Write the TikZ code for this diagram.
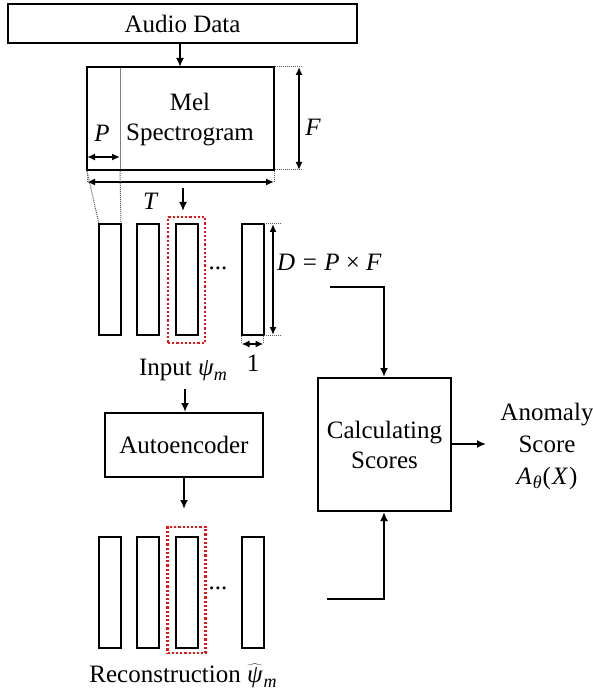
\documentclass[tikz,border=0pt]{standalone}
\usepackage{fontspec}
\setmainfont{Liberation Serif}
\usetikzlibrary{arrows.meta}
\definecolor{dotred}{RGB}{235,20,20}
\newcommand{\subm}[1]{\raisebox{-0.4ex}{\fontsize{18}{20}\selectfont\textit{#1}}}
\begin{document}
\begin{tikzpicture}[x=1pt,y=-1pt,
  box/.style={draw, line width=2pt, inner sep=0pt},
  colbox/.style={draw, line width=2pt, minimum width=22pt, minimum height=111pt, inner sep=0pt},
  redbox/.style={draw=dotred, line width=2.2pt, dash pattern=on 2.2pt off 2pt, minimum width=37pt, minimum height=126pt, inner sep=0pt},
  arr/.style={-{Latex[length=9pt,width=8pt]}, line width=1.8pt},
  dimarr/.style={{Latex[length=8pt,width=7pt]}-{Latex[length=8pt,width=7pt]}, line width=1.8pt},
  dotl/.style={dash pattern=on 1pt off 1pt, line width=1pt, gray!70!black},
  txt/.style={font=\fontsize{25}{30}\selectfont, inner sep=0pt, align=center}]
\useasboundingbox (0,0) rectangle (593,700);
\fill[white] (0,0) rectangle (593,700);

% top boxes
\node[box, minimum width=349pt, minimum height=39pt, txt] (audio) at (182.5,23.5) {Audio Data};
\node[box, minimum width=187pt, minimum height=103pt] (mel) at (180.5,118.5) {};
\node[txt] (meltxt) at (190,120) {Mel\\Spectrogram};
\draw[gray, line width=1pt] (120,68) -- (120,169);
\draw[arr] (audio.south -| 180,0) -- (180,67);

% dimension F
\draw[dotl] (275,67) -- (303,67);
\draw[dotl] (275,170) -- (303,170);
\draw[dimarr] (299,67) -- (299,170);
\node[txt, font=\fontsize{25}{30}\selectfont\itshape] (flab) at (313,127) {F};
% dimension P
\draw[dimarr] (87,157) -- (120,157);
\node[txt, font=\fontsize{25}{30}\selectfont\itshape] (plab) at (102,133) {P};
% dimension T
\draw[dotl] (87,171) -- (87,182);
\draw[dotl] (274,171) -- (274,182);
\draw[dimarr] (87,182) -- (274,182);
\node[txt, font=\fontsize{25}{30}\selectfont\itshape] (tlab) at (150,201) {T};

\coordinate (melout) at (183,188);
\coordinate (colin) at (183,211);
\draw[arr] (melout) -- (colin);

% dotted projection lines
\draw[dotl] (87,171) -- (99,224);
\draw[dotl] (120,171) -- (121,224);

% input columns
\node[colbox] (i1) at (110,279.5) {};
\node[colbox] (i2) at (148,279.5) {};
\node[colbox] (i3) at (186.5,279.5) {};
\node[colbox] (i4) at (252.5,279.5) {};
\node[redbox] (ir) at (186.5,280) {};
\node[txt] (idots) at (218,268) {...};

% D dimension
\draw[dotl] (264,224) -- (281,224);
\draw[dotl] (264,335) -- (281,335);
\draw[dimarr] (273,224) -- (273,335);
\node[txt, anchor=west] (dlab) at (277,262) {\itshape D\upshape\hspace{0.3em}=\hspace{0.3em}\itshape P\upshape\hspace{0.25em}×\hspace{0.25em}\itshape F};
% 1 dimension
\draw[dotl] (241.5,336) -- (241.5,344);
\draw[dotl] (263.5,336) -- (263.5,344);
\draw[dimarr] (241.5,344) -- (263.5,344);
\node[txt] (onelab) at (253,363) {1};

\node[txt] (inlab) at (183,370) {Input \textit{ψ}\subm{m}};

% autoencoder
\node[box, minimum width=158pt, minimum height=64pt, txt] (ae) at (184,445) {Autoencoder};
\coordinate (inbot) at (185,389);
\draw[arr] (inbot) -- (ae.north -| inbot);
\coordinate (recin) at (184,509);
\draw[arr] (ae.south -| recin) -- (recin);

% reconstruction columns
\node[colbox] (r1) at (110,592) {};
\node[colbox] (r2) at (148,592) {};
\node[colbox] (r3) at (186.5,592) {};
\node[colbox] (r4) at (252.5,592) {};
\node[redbox, minimum width=38pt] (rr) at (186.5,590) {};
\node[txt] (rdots) at (218,588) {...};
\node[txt] (reclab) at (183,676) {Reconstruction $\widehat{\hbox{\itshape ψ}}$\kern1pt\subm{m}};

% calculating scores
\node[box, minimum width=133pt, minimum height=133pt, txt] (calc) at (384.5,444.5) {Calculating\\Scores};
\coordinate (dstart) at (330,287);
\draw[arr] (dstart) -- (384,287) -- (calc.north -| 384,0);
\coordinate (rstart) at (327,599);
\draw[arr] (rstart) -- (384,599) -- (calc.south -| 384,0);
\coordinate (scoreend) at (486,444);
\draw[arr] (calc.east |- scoreend) -- (scoreend);
\node[txt, font=\fontsize{25}{32}\selectfont] (anom) at (547,446) {Anomaly\\Score\\\textit{A}\kern1pt\subm{θ}\kern1pt(\kern1pt\textit{X}\kern1pt)};
\end{tikzpicture}
\end{document}
